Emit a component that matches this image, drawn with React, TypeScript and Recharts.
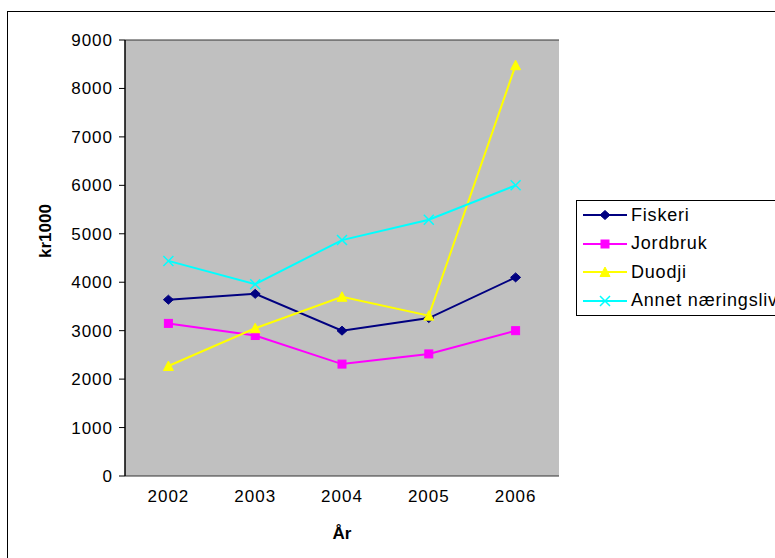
import React from 'react';
import { LineChart, Line, XAxis, YAxis, CartesianGrid, ReferenceArea } from 'recharts';

const years = ['2002', '2003', '2004', '2005', '2006'];
const fiskeri = [3640, 3760, 3000, 3260, 4100];
const jordbruk = [3150, 2900, 2310, 2520, 3000];
const duodji = [2270, 3050, 3700, 3310, 8480];
const annet = [4440, 3960, 4870, 5290, 6000];
const yTicks = [0, 1000, 2000, 3000, 4000, 5000, 6000, 7000, 8000, 9000];
const edgeTicks = [0, 1, 2, 3, 4, 5];

const series = [
  { key: 'fiskeri', name: 'Fiskeri', color: '#000080', marker: 'diamond' },
  { key: 'jordbruk', name: 'Jordbruk', color: '#ff00ff', marker: 'square' },
  { key: 'duodji', name: 'Duodji', color: '#ffff00', marker: 'triangle' },
  { key: 'annet', name: 'Annet næringsliv', color: '#00ffff', marker: 'cross' },
];

const data = years.map((year, i) => ({
  year,
  fiskeri: fiskeri[i],
  jordbruk: jordbruk[i],
  duodji: duodji[i],
  annet: annet[i],
}));

const FONT = '"Liberation Sans", Arial, sans-serif';

const Marker = ({ cx, cy, type, color }: { cx: number; cy: number; type: string; color: string }) => {
  if (type === 'diamond') {
    return <path d={`M${cx - 5},${cy} L${cx},${cy - 4.5} L${cx + 5},${cy} L${cx},${cy + 4.5} Z`} fill={color} stroke={color} />;
  }
  if (type === 'square') {
    return <rect x={cx - 4} y={cy - 4} width={8} height={8} fill={color} stroke={color} />;
  }
  if (type === 'triangle') {
    return <path d={`M${cx - 5},${cy + 4.5} L${cx},${cy - 5} L${cx + 5},${cy + 4.5} Z`} fill={color} stroke={color} />;
  }
  return (
    <path d={`M${cx - 5},${cy - 5} L${cx + 5},${cy + 5} M${cx - 5},${cy + 5} L${cx + 5},${cy - 5}`} stroke={color} strokeWidth={1.5} fill="none" />
  );
};

const LegendBox = () => (
  <div
    style={{
      position: 'absolute',
      left: 576,
      top: 200,
      width: 240,
      border: '1px solid #000',
      background: '#fff',
      padding: '0 0 0 6px',
      fontFamily: FONT,
      fontSize: 18,
      letterSpacing: 0.8,
      color: '#000',
    }}
  >
    {series.map((s) => (
      <div key={s.key} style={{ display: 'flex', alignItems: 'center', height: 28.5, whiteSpace: 'nowrap' }}>
        <svg width={48} height={14} style={{ flexShrink: 0 }}>
          <line x1={0} y1={7} x2={44} y2={7} stroke={s.color} strokeWidth={2} />
          <Marker cx={22} cy={7} type={s.marker} color={s.color} />
        </svg>
        <span>{s.name}</span>
      </div>
    ))}
  </div>
);

export default function App() {
  return (
    <div style={{ position: 'fixed', left: 0, top: 0, width: 775, height: 558, overflow: 'hidden', background: '#fff' }}>
      <div
        style={{
          position: 'absolute',
          left: 7,
          top: 11,
          width: 820,
          height: 600,
          border: '1.5px solid #000',
          boxSizing: 'border-box',
        }}
      />
      <div style={{ position: 'absolute', left: 0, top: 0 }}>
        <LineChart
          width={775}
          height={558}
          data={data}
          margin={{ top: 40, right: 216, bottom: 12, left: 35 }}
          style={{ fontFamily: FONT }}
        >
          <CartesianGrid vertical={false} fill="#c0c0c0" stroke="#333" strokeOpacity={1} horizontal />
          <ReferenceArea yAxisId="y" xAxisId="edge" x1={0} x2={5} y1={0} y2={9000} fill="none" stroke="#808080" strokeWidth={1.5} />
          <XAxis
            xAxisId="edge"
            type="number"
            domain={[0, 5]}
            ticks={edgeTicks}
            height={0}
            tickFormatter={() => ''}
            tickSize={6}
            axisLine={{ stroke: '#000', strokeWidth: 1.5 }}
            tickLine={{ stroke: '#000' }}
          />
          <XAxis
            xAxisId="cat"
            dataKey="year"
            scale="band"
            height={70}
            axisLine={false}
            tickLine={false}
            tickMargin={8}
            tick={{ fill: '#000', fontSize: 17, letterSpacing: 1 }}
            label={{ value: 'År', position: 'insideBottom', offset: 7, fill: '#000', fontSize: 17, fontWeight: 'bold' }}
          />
          <YAxis
            yAxisId="y"
            domain={[0, 9000]}
            ticks={yTicks}
            width={90}
            interval={0}
            tickSize={6}
            tickMargin={6}
            axisLine={{ stroke: '#000', strokeWidth: 1.5 }}
            tickLine={{ stroke: '#000' }}
            tick={{ fill: '#000', fontSize: 17, letterSpacing: 1 }}
            label={{ value: 'kr1000', angle: -90, position: 'insideLeft', offset: 10, fill: '#000', fontSize: 17, fontWeight: 'bold' }}
          />
          {series.map((s) => (
            <Line
              key={s.key}
              xAxisId="cat"
              yAxisId="y"
              type="linear"
              dataKey={s.key}
              name={s.name}
              stroke={s.color}
              strokeWidth={2}
              isAnimationActive={false}
              dot={(p: any) => <Marker key={`${s.key}-${p.index}`} cx={p.cx} cy={p.cy} type={s.marker} color={s.color} />}
              activeDot={false}
            />
          ))}
        </LineChart>
      </div>
      <LegendBox />
    </div>
  );
}
